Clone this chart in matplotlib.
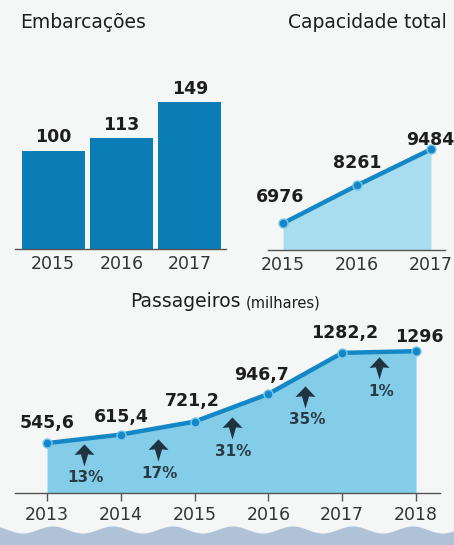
import numpy as np
import matplotlib
matplotlib.use("Agg")
import matplotlib.pyplot as plt
from matplotlib.path import Path

plt.rcParams['font.family'] = ['DejaVu Sans']

# ---- data ----
boat_years = ['2015', '2016', '2017']
boat_counts = [100, 113, 149]

cap_years = [2015, 2016, 2017]
cap_values = [6976, 8261, 9484]
cap_labels = ['6976', '8261', '9484']

pax_years = [2013, 2014, 2015, 2016, 2017, 2018]
pax_values = [545.6, 615.4, 721.2, 946.7, 1282.2, 1296]
pax_labels = ['545,6', '615,4', '721,2', '946,7', '1282,2', '1296']
growth_labels = ['13%', '17%', '31%', '35%', '1%']

# ---- style ----
W, H = 454, 545
BG = '#f5f6f6'
BAR = '#0b7db6'
LINE = '#1488c6'
FILL_PAX = '#84cde9'
FILL_CAP = '#a8dcef'
TXT = '#1e1e1e'
AXL = '#555555'
ARROW = '#1f3340'

fig = plt.figure(figsize=(W / 100, H / 100), dpi=100, facecolor=BG)

def px_axes(x0, y0, x1, y1):
    return fig.add_axes([x0 / W, 1 - y1 / H, (x1 - x0) / W, (y1 - y0) / H])

def clean(ax):
    ax.set_facecolor('none')
    for s in ['top', 'right', 'left']:
        ax.spines[s].set_visible(False)
    ax.spines['bottom'].set_color(AXL)
    ax.spines['bottom'].set_linewidth(1.0)
    ax.set_yticks([])

TICK_FS = 12.5
VAL_FS = 12.5
TITLE_FS = 13.5

# ---- bar chart ----
ax1 = px_axes(15, 60, 226, 249)
clean(ax1)
xb = np.arange(len(boat_counts))
ax1.bar(xb, boat_counts, width=0.92, color=BAR)
ax1.set_xlim(-0.56, 2.53)
ax1.set_ylim(0, 189 / 0.985)
ax1.set_xticks(xb)
ax1.set_xticklabels(boat_years, fontsize=TICK_FS, color='#333333')
ax1.tick_params(axis='x', length=0, pad=4)
for x, v in zip(xb, boat_counts):
    ax1.annotate(str(v), (x, v), xytext=(0, 4), textcoords='offset pixels',
                 ha='center', va='bottom', fontsize=VAL_FS, fontweight='bold', color=TXT)
fig.text(20 / W, 1 - 22 / H, 'Embarcações', fontsize=TITLE_FS, color=TXT, va='center', ha='left')

# ---- capacity chart ----
ax2 = px_axes(268, 60, 445, 250)
clean(ax2)
ax2.set_xlim(2014.797, 2017.19)
ybot = 6071
ax2.set_ylim(ybot, ybot + 190 / 0.0295)
ax2.fill_between(cap_years, cap_values, ybot, color=FILL_CAP, lw=0)
ax2.plot(cap_years, cap_values, color=LINE, lw=3.2, solid_capstyle='round',
         marker='o', ms=6.5, mfc=LINE, mec='#7cc8ea', mew=1)
ax2.set_xticks(cap_years)
ax2.set_xticklabels([str(y) for y in cap_years], fontsize=TICK_FS, color='#333333')
ax2.tick_params(axis='x', length=0, pad=4)
cap_off = [(-3, 26), (0, 22), (-1, 9)]
for x, v, lab, off in zip(cap_years, cap_values, cap_labels, cap_off):
    ax2.annotate(lab, (x, v), xytext=off, textcoords='offset pixels',
                 ha='center', va='center', fontsize=VAL_FS, fontweight='bold', color=TXT,
                 annotation_clip=False)
fig.text(288 / W, 1 - 22 / H, 'Capacidade total', fontsize=TITLE_FS, color=TXT, va='center', ha='left')

# ---- passengers chart ----
ax3 = px_axes(15, 320, 440, 493)
clean(ax3)
ax3.set_xlim(2012.566, 2018.325)
pbot = 139
ax3.set_ylim(pbot, pbot + 173 / 0.1226)
ax3.fill_between(pax_years, pax_values, pbot, color=FILL_PAX, lw=0)
ax3.plot(pax_years, pax_values, color=LINE, lw=3.2, solid_joinstyle='round',
         marker='o', ms=6.5, mfc=LINE, mec='#7cc8ea', mew=1)
ax3.set_xticks(pax_years)
ax3.set_xticklabels([str(y) for y in pax_years], fontsize=TICK_FS, color='#333333')
ax3.tick_params(axis='x', length=6, width=1, color=AXL, pad=3)
pax_off = [(0, 20), (0, 18), (-2, 21), (-7, 19), (2, 20), (3, 14)]
for x, v, lab, off in zip(pax_years, pax_values, pax_labels, pax_off):
    ax3.annotate(lab, (x, v), xytext=off, textcoords='offset pixels',
                 ha='center', va='center', fontsize=VAL_FS, fontweight='bold', color=TXT,
                 annotation_clip=False)

arrow_path = Path([(0, 1.0), (0.9, 0.05), (0.32, 0.1), (0, -1.0), (-0.32, 0.1),
                   (-0.9, 0.05), (0, 1.0)],
                  [Path.MOVETO] + [Path.LINETO] * 5 + [Path.CLOSEPOLY])
arrow_drop = [-131, -179, -165, -192, -131]
for i, lab in enumerate(growth_labels):
    xm = (pax_years[i] + pax_years[i + 1]) / 2
    ym = (pax_values[i] + pax_values[i + 1]) / 2 + arrow_drop[i]
    ax3.plot([xm], [ym], marker=arrow_path, ms=16, color=ARROW, mew=0)
    ax3.annotate(lab, (xm, ym), xytext=(2, -23), textcoords='offset pixels',
                 ha='center', va='center', fontsize=11, fontweight='bold', color='#2a3a44')

t1 = fig.text(130 / W, 1 - 307 / H, 'Passageiros', fontsize=TITLE_FS, color=TXT,
              va='baseline', ha='left')
ax3.annotate('(milhares)', xy=(1, 0), xycoords=t1, xytext=(5, 0), textcoords='offset pixels',
             fontsize=10.5, color=TXT, va='bottom', ha='left', annotation_clip=False)

# ---- decorative wave at bottom ----
axw = fig.add_axes([0, 0, 1, 30 / H])
axw.set_axis_off()
axw.set_xlim(0, W)
axw.set_ylim(0, 30)
xs = np.linspace(0, W, 400)
ys = 15 + 3.5 * np.cos(2 * np.pi * (xs - 53) / 60)
axw.fill_between(xs, ys, 0, color='#b0c2d8', lw=0)

fig.savefig('out.png', dpi=100, facecolor=BG)
